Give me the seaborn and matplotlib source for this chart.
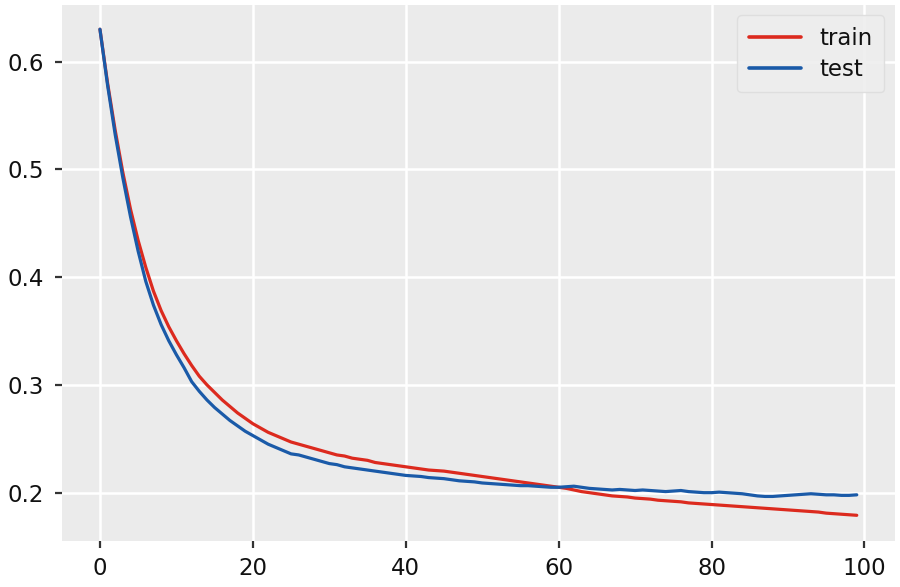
import numpy as np
import pandas as pd
import matplotlib
matplotlib.use("Agg")
import matplotlib.pyplot as plt
import seaborn as sns

epochs = list(range(100))

train = [0.630, 0.580, 0.536, 0.497, 0.463, 0.434, 0.409, 0.387, 0.369, 0.354,
         0.341, 0.329, 0.318, 0.308, 0.300, 0.293, 0.286, 0.280, 0.274, 0.269,
         0.264, 0.260, 0.256, 0.253, 0.250, 0.247, 0.245, 0.243, 0.241, 0.239,
         0.237, 0.235, 0.234, 0.232, 0.231, 0.230, 0.228, 0.227, 0.226, 0.225,
         0.224, 0.223, 0.222, 0.221, 0.2205, 0.220, 0.219, 0.218, 0.217, 0.216,
         0.215, 0.214, 0.213, 0.212, 0.211, 0.210, 0.209, 0.208, 0.207, 0.206,
         0.205, 0.204, 0.2025, 0.201, 0.200, 0.199, 0.198, 0.197, 0.1965, 0.196,
         0.195, 0.1945, 0.194, 0.193, 0.1925, 0.192, 0.1915, 0.1905, 0.190, 0.1895,
         0.189, 0.1885, 0.188, 0.1875, 0.187, 0.1865, 0.186, 0.1855, 0.185, 0.1845,
         0.184, 0.1835, 0.183, 0.1825, 0.182, 0.181, 0.1805, 0.180, 0.1795, 0.179]

test = [0.630, 0.578, 0.532, 0.492, 0.456, 0.424, 0.396, 0.374, 0.356, 0.341,
        0.328, 0.316, 0.303, 0.294, 0.286, 0.279, 0.273, 0.267, 0.262, 0.257,
        0.253, 0.249, 0.245, 0.242, 0.239, 0.236, 0.235, 0.233, 0.231, 0.229,
        0.227, 0.226, 0.224, 0.223, 0.222, 0.221, 0.220, 0.219, 0.218, 0.217,
        0.216, 0.2155, 0.215, 0.214, 0.2135, 0.213, 0.212, 0.211, 0.2105, 0.210,
        0.209, 0.2085, 0.208, 0.2075, 0.207, 0.2065, 0.2065, 0.206, 0.2055, 0.205,
        0.205, 0.2055, 0.206, 0.205, 0.204, 0.2035, 0.203, 0.2025, 0.203, 0.2025,
        0.202, 0.2025, 0.202, 0.2015, 0.201, 0.2015, 0.202, 0.201, 0.2005, 0.200,
        0.200, 0.2005, 0.200, 0.1995, 0.199, 0.198, 0.197, 0.1965, 0.1965, 0.197,
        0.1975, 0.198, 0.1985, 0.199, 0.1985, 0.198, 0.198, 0.1975, 0.1975, 0.198]

series_names = ["train", "test"]
series_colors = ["#dc2a1e", "#1a5aa8"]

df = pd.DataFrame({
    "epoch": epochs * 2,
    "loss": train + test,
    "set": ["train"] * len(train) + ["test"] * len(test),
})

sns.set_theme(style="darkgrid", rc={
    "axes.facecolor": "#ebebeb",
    "figure.facecolor": "white",
    "grid.color": "white",
    "grid.linewidth": 1.8,
    "axes.edgecolor": "#ebebeb",
})
plt.rcParams["font.family"] = ["DejaVu Sans"]

fig = plt.figure(figsize=(9, 5.87), dpi=100)
ax = fig.add_axes([0.069, 0.079, 0.925, 0.9125])

sns.lineplot(data=df, x="epoch", y="loss", hue="set", hue_order=series_names,
             palette=dict(zip(series_names, series_colors)), linewidth=2.3, ax=ax)

ax.set_xlabel("")
ax.set_ylabel("")
ax.set_xlim(-4.95, 103.95)
ax.set_ylim(0.1555, 0.6525)
ax.set_xticks([0, 20, 40, 60, 80, 100])
ax.set_yticks([0.2, 0.3, 0.4, 0.5, 0.6])
ax.set_yticklabels(["0.2", "0.3", "0.4", "0.5", "0.6"])
ax.tick_params(axis="both", which="major", labelsize=16.5, length=5, width=1.6,
               color="#333333", labelcolor="#111111", bottom=True, left=True)
ax.tick_params(axis="y", pad=8)
ax.tick_params(axis="x", pad=7)
for s in ax.spines.values():
    s.set_visible(False)

leg = ax.legend(loc="upper right", fontsize=16.5, frameon=True, handlelength=2.3,
                borderpad=0.5, labelspacing=0.35, borderaxespad=0.45)
leg.get_frame().set_facecolor("#eeeeee")
leg.get_frame().set_edgecolor("#dddddd")
leg.get_frame().set_alpha(0.9)
for t in leg.get_texts():
    t.set_color("#111111")
for line in leg.get_lines():
    line.set_linewidth(2.6)

fig.savefig("out.png", dpi=100)
